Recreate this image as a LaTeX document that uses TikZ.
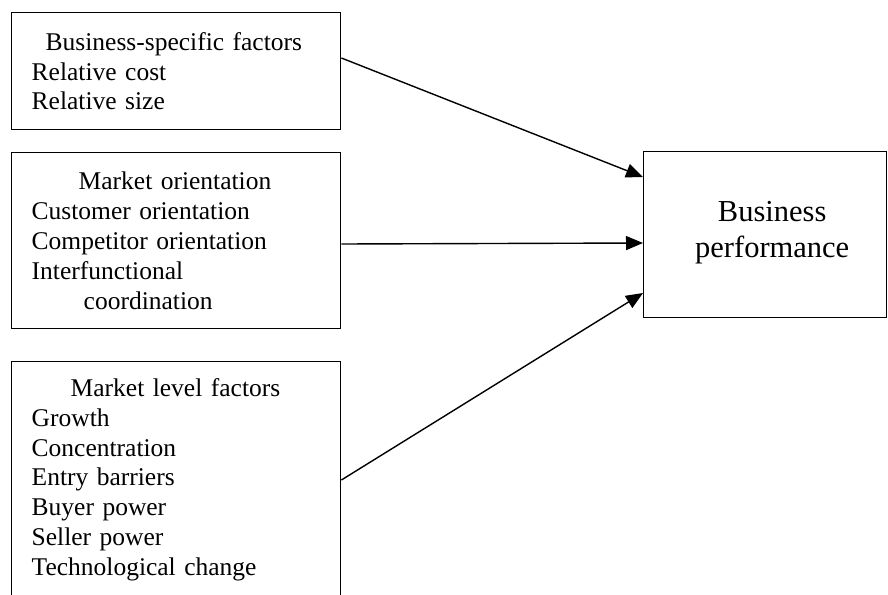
\documentclass[tikz,border=0pt]{standalone}
\usepackage{fontspec}
\setmainfont{Liberation Serif}
\usetikzlibrary{arrows.meta,calc}
\tikzset{
  factorbox/.style={draw, line width=1.4pt, anchor=north west, inner xsep=20pt,
    inner ysep=0pt, align=left, font=\fontsize{25.5}{29.8}\selectfont},
  perfbox/.style={draw, line width=1.4pt, anchor=north west, inner sep=0pt},
  link/.style={line width=1.4pt, -{Triangle[length=17pt,width=14pt]}}
}
\begin{document}
\begin{tikzpicture}[x=1pt,y=-1pt]
\useasboundingbox (0,0) rectangle (888,594);
\clip (0,0) rectangle (888,594);
% left column: the three groups of factors
\node[factorbox, minimum width=329pt, minimum height=117pt, text width=289pt] (bsf) at (11,12)
  {\hspace*{14pt}Business-specific factors\\Relative cost\\Relative size};
\node[factorbox, minimum width=329pt, minimum height=176pt, text width=289pt] (mo) at (11,152)
  {\hspace*{47pt}Market orientation\\Customer orientation\\Competitor orientation\\Interfunctional\\\hspace*{52pt}coordination};
\node[factorbox, minimum width=329pt, minimum height=236pt, text width=289pt] (mlf) at (11,361)
  {\hspace*{39pt}Market level factors\\Growth\\Concentration\\Entry barriers\\Buyer power\\Seller power\\Technological change};
% right: outcome
\node[perfbox, minimum width=243pt, minimum height=166pt] (bp) at (643,151) {};
\node[align=center, font=\fontsize{30.5}{36.5}\selectfont] (bptext) at ($(bp.center)+(7,-2)$)
  {Business\\performance};
% links into the outcome box
\draw[link] ($(bsf.north east)+(0,46)$) -- ($(bp.north west)+(0,26)$);
\draw[link] ($(mo.north east)+(0,92)$) -- ($(bp.north west)+(0,92)$);
\draw[link] ($(mlf.north east)+(0,119)$) -- ($(bp.north west)+(0,142)$);
\end{tikzpicture}
\end{document}
